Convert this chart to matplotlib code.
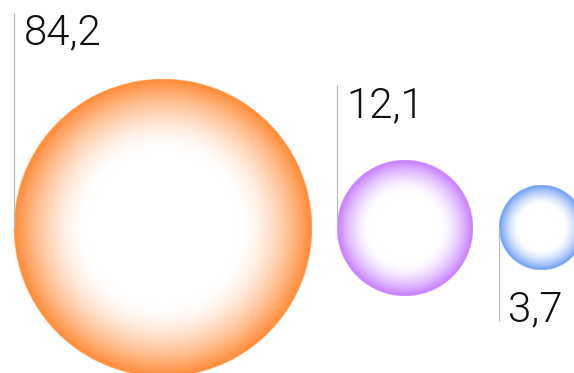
import numpy as np
import matplotlib
matplotlib.use("Agg")
import matplotlib.pyplot as plt
from matplotlib.colors import to_rgb

# ---- data ----
values = [84.2, 12.1, 3.7]
labels = ["84,2", "12,1", "3,7"]
colors = ["#FF8A36", "#C77BFF", "#6A9CF5"]
label_side = ["above", "above", "below"]

# ---- layout / style ----
W, H = 574, 373
DPI = 100
k = 24.88          # radius scale (px per value**power)
power = 0.403
x_start = 14
gap = 26
cy = 228
above_offset = [35, 43, 0]   # baseline distance above circle top
below_offset = 21            # text top distance below circle bottom
text_dx = 9.5
font_px = 42.0
font_pt = font_px * 72 / DPI
FONT = "Roboto"
WEIGHT = 300

fig = plt.figure(figsize=(W / DPI, H / DPI), dpi=DPI)
ax = fig.add_axes([0, 0, 1, 1])
ax.set_xlim(0, W)
ax.set_ylim(H, 0)
ax.set_aspect("equal")
ax.axis("off")

x_left = x_start
for i, (v, lab, col, side) in enumerate(zip(values, labels, colors, label_side)):
    r = k * v ** power
    cx = x_left + r
    # radial gradient image
    ss = 4
    n = int(np.ceil(2 * r * ss))
    xs = (np.arange(n) + 0.5) / n * 2 - 1
    X, Y = np.meshgrid(xs, xs)
    d = np.sqrt(X ** 2 + Y ** 2)
    t = np.clip((d - 0.52) / 0.48, 0, 1) ** 1.6
    c = np.array(to_rgb(col))
    rgb = (1 - t[..., None]) * np.ones(3) + t[..., None] * c
    alpha = np.clip((1 - d) * r + 0.5, 0, 1)
    img = np.dstack([rgb, alpha])
    ax.imshow(img, extent=[cx - r, cx + r, cy + r, cy - r],
              interpolation="antialiased", zorder=1)
    # label + leader line
    if side == "above":
        base = cy - r - above_offset[i]
        top_txt = base - 0.711 * font_px
        ax.plot([x_left, x_left], [cy, top_txt - 2], color="#BDBDBD", lw=0.9,
                zorder=2, solid_capstyle="butt")
    else:
        top_txt = cy + r + below_offset
        base = top_txt + 0.711 * font_px
        ax.plot([x_left, x_left], [cy, base], color="#BDBDBD", lw=0.9,
                zorder=2, solid_capstyle="butt")
    ax.text(x_left + text_dx, base, lab, fontsize=font_pt, family=FONT, weight=WEIGHT,
            va="baseline", ha="left", color="#111111", zorder=3)
    x_left = cx + r + gap

ax.set_xlim(0, W)
ax.set_ylim(H, 0)
fig.savefig("out.png", dpi=DPI)
